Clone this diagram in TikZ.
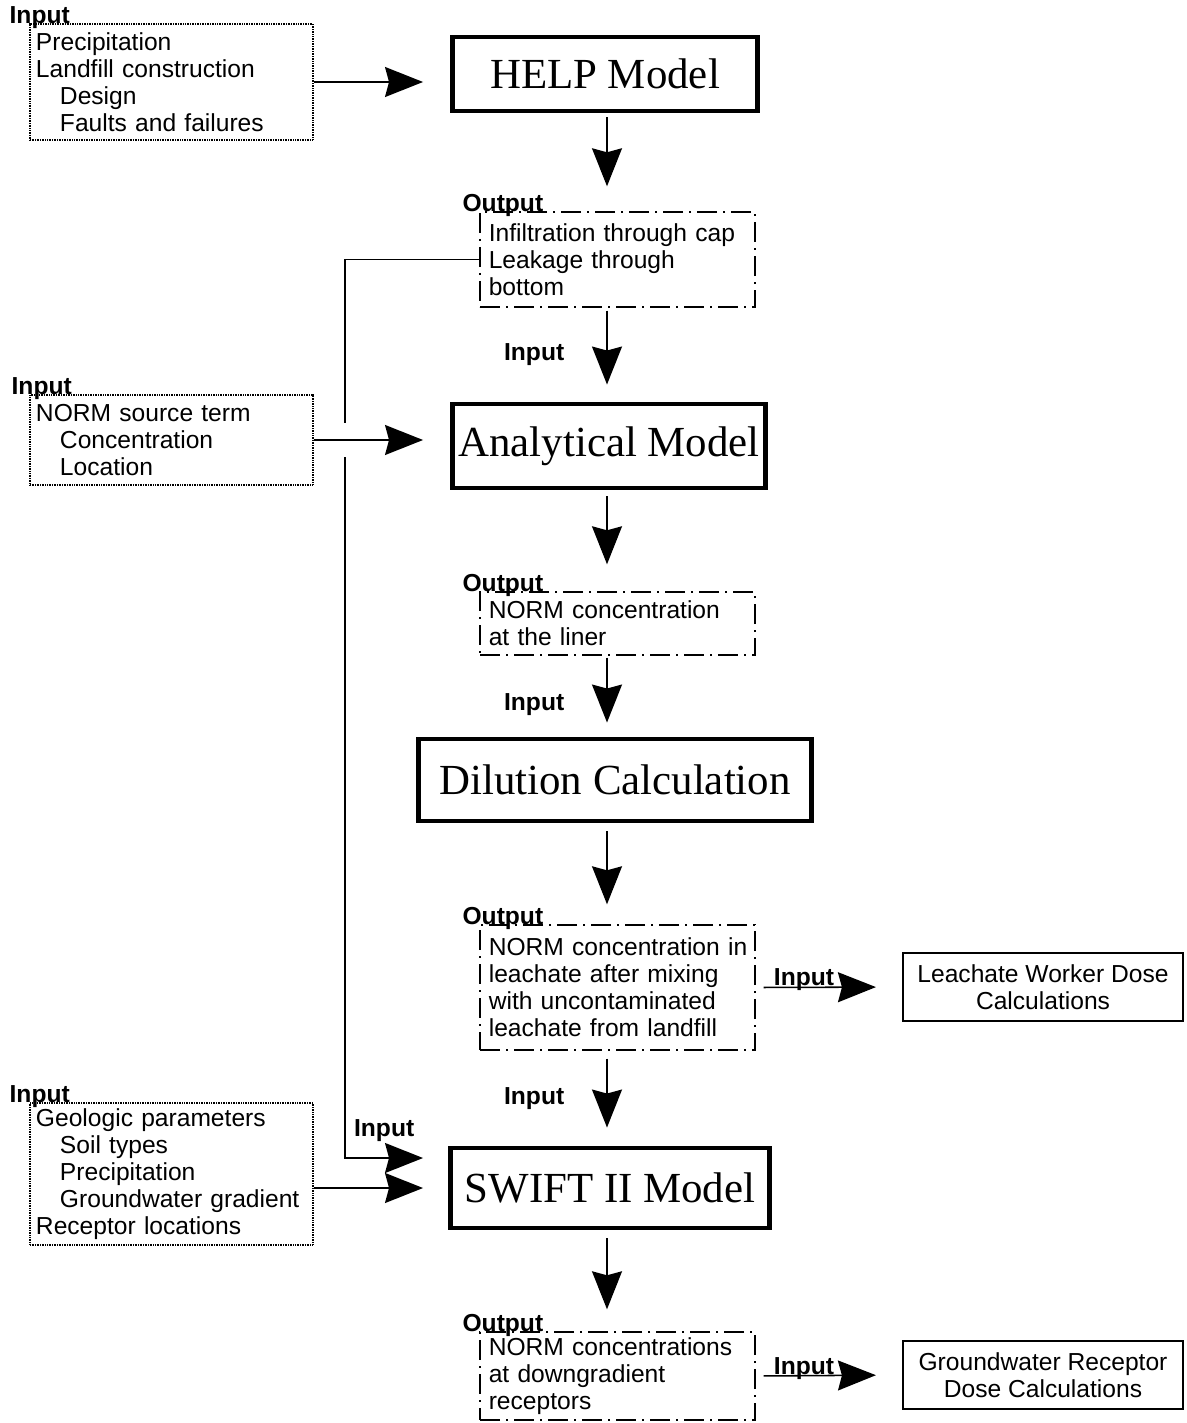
\documentclass[tikz,border=0pt]{standalone}
\usepackage{fontspec}
\setmainfont{Liberation Sans}
\newfontfamily\modelserif{Liberation Serif}
\usetikzlibrary{positioning, arrows.meta}

\tikzset{
    model/.style={draw, line width=3.5pt, inner sep=0pt, font=\modelserif\fontsize{30.5}{34}\selectfont},
    inbox/.style={draw, line width=0.9pt, dash pattern=on 0.6pt off 0.6pt, align=left, inner xsep=1.5mm, inner ysep=0pt},
    outbox/.style={draw, line width=1pt, dash pattern=on 5mm off 1.5mm on 0.5mm off 1.5mm, align=left, inner xsep=1.5mm, inner ysep=0pt},
    dosebox/.style={draw, line width=1.5pt, align=center, inner sep=0pt},
    tag/.style={inner sep=0pt, font=\fontsize{17.5}{19}\selectfont\bfseries},
    flow/.style={line width=1.1pt, -{Stealth[length=9.5mm, width=7.5mm, inset=1mm]}},
}

\begin{document}
\begin{tikzpicture}[x=0.25mm, y=-0.25mm, font=\fontsize{17.5}{19.2}\selectfont]
    \useasboundingbox (0,0) rectangle (1187,1423);

    % model column
    \node (help) [model, minimum width=76.25mm, minimum height=18.5mm] at (605,74) {HELP Model};
    \node (analytic) [model, minimum width=78.25mm, minimum height=21mm] at (609,446) {Analytical Model};
    \node (dilution) [model, minimum width=98.25mm, minimum height=20.5mm] at (615,780) {Dilution Calculation};
    \node (swift) [model, minimum width=79.75mm, minimum height=20mm] at (610,1188) {SWIFT II Model};

    % dose calculations
    \node (leachdose) [dosebox, minimum width=70mm, minimum height=17mm] at (1043,987) {Leachate Worker Dose\\Calculations};
    \node (gwdose) [dosebox, minimum width=70mm, minimum height=17mm] at (1043,1375) {Groundwater Receptor\\Dose Calculations};

    % input boxes
    \node (helpin) [inbox, text width=67.75mm, minimum height=29mm] at (171.5,82) {Precipitation\\Landfill construction\\\hspace*{6mm}Design\\\hspace*{6mm}Faults and failures};
    \node (sourcein) [inbox, text width=67.75mm, minimum height=22.5mm] at (171.5,440) {NORM source term\\\hspace*{6mm}Concentration\\\hspace*{6mm}Location};
    \node (geoin) [inbox, text width=67.75mm, minimum height=35.5mm] at (171.5,1174) {Geologic parameters\\\hspace*{6mm}Soil types\\\hspace*{6mm}Precipitation\\\hspace*{6mm}Groundwater gradient\\Receptor locations};
    \node (helpintag) [tag, anchor=base west] at ([xshift=-5mm]helpin.north west) {Input};
    \node (sourceintag) [tag, anchor=base west] at ([xshift=-4.5mm]sourcein.north west) {Input};
    \node (geointag) [tag, anchor=base west] at ([xshift=-5mm]geoin.north west) {Input};

    % output boxes
    \node (helpout) [outbox, text width=65.75mm, minimum height=23.75mm] at (617.5,259.5) {\hspace*{0.7mm}Infiltration through cap\\\hspace*{0.7mm}Leakage through\\\hspace*{0.7mm}bottom};
    \node (anaout) [outbox, text width=65.75mm, minimum height=15.75mm] at (617.5,623.5) {\hspace*{0.7mm}NORM concentration\\\hspace*{0.7mm}at the liner};
    \node (diluout) [outbox, text width=65.75mm, minimum height=31.25mm] at (617.5,987.5) {\hspace*{0.7mm}NORM concentration in\\\hspace*{0.7mm}leachate after mixing\\\hspace*{0.7mm}with uncontaminated\\\hspace*{0.7mm}leachate from landfill};
    \node (swiftout) [outbox, text width=65.75mm, minimum height=22mm] at (617.5,1376) {\hspace*{0.7mm}NORM concentrations\\\hspace*{0.7mm}at downgradient\\\hspace*{0.7mm}receptors};
    \foreach \outname in {helpout, anaout, diluout, swiftout}
        \node (\outname tag) [tag, anchor=base west] at ([xshift=-4.25mm]\outname.north west) {Output};

    % main flow
    \coordinate (spine) at (607,0);
    \draw [flow, shorten <=1mm, shorten >=6.25mm] (help.south -| spine) -- (helpout.north -| spine);
    \draw [flow, shorten <=0.75mm, shorten >=4.25mm] (helpout.south -| spine) -- node [tag, midway, left=10.5mm] {Input} (analytic.north -| spine);
    \draw [flow, shorten <=1.5mm, shorten >=6.75mm] (analytic.south -| spine) -- (anaout.north -| spine);
    \draw [flow, shorten <=0.5mm, shorten >=3.5mm] (anaout.south -| spine) -- node [tag, pos=0.6, left=10.5mm] {Input} (dilution.north -| spine);
    \draw [flow, shorten <=2mm, shorten >=5mm] (dilution.south -| spine) -- (diluout.north -| spine);
    \draw [flow, shorten <=2mm, shorten >=4.5mm] (diluout.south -| spine) -- node [tag, midway, left=10.5mm] {Input} (swift.north -| spine);
    \draw [flow, shorten <=2mm, shorten >=5.5mm] (swift.south -| spine) -- (swiftout.north -| spine);

    % side inputs
    \coordinate (loop) at (345,1158);
    \draw [flow, shorten >=6.25mm] (helpout.west) -| (loop) -- node [tag, pos=0.38, above=4mm] {Input} (loop -| swift.west);
    \draw [flow, shorten >=6.75mm] (helpin.east) -- (helpin.east -| help.west);
    \draw [flow, shorten >=6.75mm, preaction={draw=white, arrows=-, line width=8.5mm, shorten <=4mm, shorten >=20mm}] (sourcein.east) -- (sourcein.east -| analytic.west);
    \draw [flow, shorten >=6.25mm] (geoin.east |- swift.west) -- (swift.west);

    % to dose calculations
    \draw [flow, shorten <=2mm, shorten >=6.5mm] (diluout.east) -- node [tag, pos=0.33, anchor=base, yshift=1pt] {Input} (leachdose.west);
    \draw [flow, shorten <=2mm, shorten >=6.5mm] (swiftout.east) -- node [tag, pos=0.33, anchor=base, yshift=1pt] {Input} (gwdose.west);
\end{tikzpicture}
\end{document}
